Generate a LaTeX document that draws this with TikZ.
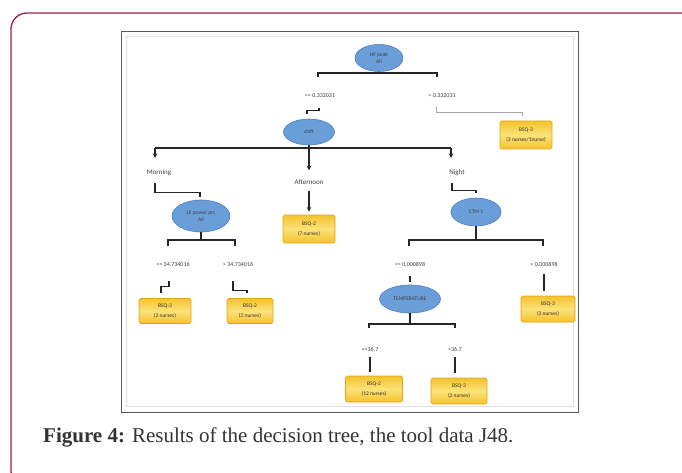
\documentclass[tikz,border=0pt]{standalone}
\usepackage{fontspec}
\setmainfont{Liberation Serif}
\newfontfamily\chartfont{Carlito}
\usepackage{xcolor}
\usepackage{tikz}
\usetikzlibrary{shapes.geometric}
\definecolor{pageline}{HTML}{9E1F4A}
\definecolor{testfill}{HTML}{6A9ED8}
\definecolor{testedge}{HTML}{4F7FBF}
\definecolor{leaflight}{HTML}{FBE27A}
\definecolor{leafgold}{HTML}{F5C22C}
\definecolor{leafedge}{HTML}{E0A420}

\begin{document}
\begin{tikzpicture}[
    x=1pt, y=-1pt,
    test/.style={ellipse, draw=testedge, fill=testfill, line width=0.6pt, inner sep=0pt, align=center, text=black!75, font=\chartfont\fontsize{5.5}{7.5}\selectfont},
    leaf/.style={draw=leafedge, line width=0.6pt, rounded corners=1.5pt, top color=leafgold, bottom color=leafgold, middle color=leaflight, inner sep=0pt, align=center, text=black!80, font=\chartfont\fontsize{5.5}{9.5}\selectfont},
    cond/.style={inner sep=1pt, text=black!75, font=\chartfont\fontsize{6}{7}\selectfont},
    shiftcond/.style={cond, font=\chartfont\fontsize{7}{8}\selectfont},
    br/.style={line width=1.3pt, draw=black!85},
    arr/.style={-stealth, line width=1.1pt, draw=black!85}
]
    \useasboundingbox (0,0) rectangle (682,473);
    \clip (0,0) rectangle (682,473);
    \draw[pageline, line width=1.3pt, rounded corners=16pt] (11,13) rectangle (720,487);
    \draw[black!65, line width=1pt] (121,32) rectangle (578,412);
    \draw[black!12, line width=1pt] (126,37) rectangle (573,406);

    \node[test, minimum width=48, minimum height=27] (root) at (379,58) {HF peak\\All};
    \node[cond] (lo1) at (320,96) {<= 0.332031};
    \node[cond] (hi1) at (442,96) {> 0.332031};
    \node[leaf, minimum width=52, minimum height=28] (q1) at (526,135) {BSQ-3\\(3 nurses/1nurse)};
    \node[test, minimum width=51, minimum height=26] (shift) at (309,132) {shift};

    \node[shiftcond] (morn) at (159,173) {Morning};
    \node[shiftcond] (aft) at (309,182) {Afternoon};
    \node[shiftcond] (night) at (457,173) {Night};
    \node[test, minimum width=58, minimum height=32] (lf) at (201,216) {LF power prc\\All};
    \node[leaf, minimum width=52, minimum height=28] (q2) at (309,229) {BSQ-2\\(7 nurses)};
    \node[test, minimum width=50, minimum height=28] (ctm) at (476,212) {CTM 1};

    \node[cond] (l1) at (173,264) {<= 34.734016};
    \node[cond] (l2) at (238,264) {> 34.734016};
    \node[cond] (l3) at (410,264) {<= 0.000898};
    \node[cond] (l4) at (544,264) {> 0.000898};
    \node[leaf, minimum width=52, minimum height=25] (qa) at (165,311) {BSQ-3\\(2 nurses)};
    \node[leaf, minimum width=46, minimum height=25] (qb) at (250,311) {BSQ-2\\(2 nurses)};
    \node[test, minimum width=61, minimum height=28] (temp) at (410,299) {TEMPERATURE};
    \node[leaf, minimum width=54, minimum height=26] (q5) at (548,309) {BSQ-3\\(3 nurses)};

    \node[cond] (l5) at (370,349) {<=36.7};
    \node[cond] (l6) at (455,349) {>36.7};
    \node[leaf, minimum width=57, minimum height=26] (q6) at (374,389) {BSQ-2\\(12 nurses)};
    \node[leaf, minimum width=56, minimum height=26] (q7) at (459,391) {BSQ-3\\(2 nurses)};

    % split on HF peak
    \draw[br] (root.south) -- ++(0,2);
    \draw[br] (318,77) |- (437,73) -- (437,77);
    \draw[br] ([xshift=-1pt,yshift=-9pt]lo1.south) -- ++(0,2.5) -| ([xshift=-2pt,yshift=5pt]shift.north);
    \draw[gray!70, line width=0.8pt] ([xshift=-6pt,yshift=-8pt]hi1.south) -- ++(0,5) -| ([xshift=-4pt,yshift=5pt]q1.north);

    % split on shift
    \draw[br] (shift.south) -- ++(0,3);
    \draw[br] (155,148) -- (451,148);
    \draw[arr] (155,148) -- ++(0,10);
    \draw[arr] (451,148) -- ++(0,10);
    \draw[arr] (shift.south) -- ++(0,25);
    \draw[br] ([xshift=-4pt,yshift=-6pt]morn.south) -- ++(0,9) -| ([xshift=-1pt,yshift=3pt]lf.north);
    \draw[br] ([xshift=-5pt,yshift=-6pt]night.south) -- ++(0,7) -| ([yshift=5pt]ctm.north);
    \draw[arr] ([yshift=-5pt]aft.south) -- ([yshift=3pt]q2.north);

    % split on LF power prc
    \draw[br] (lf.south) -- ++(0,8);
    \draw[br] (168,246) |- (235,240) -- (235,246);
    \draw[br] ([xshift=-4pt,yshift=-14pt]l1.south) -- ++(0,5) -| ([xshift=-4pt,yshift=5pt]qa.north);
    \draw[br] ([xshift=-5pt,yshift=-14pt]l2.south) -- ++(0,9) -| ([xshift=-3pt,yshift=5pt]qb.north);

    % split on CTM 1
    \draw[br] (ctm.south) -- ++(0,14);
    \draw[br] (409,246) |- (543,240) -- (543,246);
    \draw[br, shorten <=9pt, shorten >=3pt] (l3.south) -- (temp.north);
    \draw[br, shorten <=7pt, shorten >=5pt] (l4.south) -- (l4.south |- q5.north);

    % split on TEMPERATURE
    \draw[br] (temp.south) -- ++(0,11);
    \draw[br] (369,328) |- (455,324) -- (455,328);
    \draw[br, shorten <=5pt, shorten >=4pt] (l5.south) -- (l5.south |- q6.north);
    \draw[br, shorten <=5pt, shorten >=5pt] (l6.south) -- (l6.south |- q7.north);

    \node[anchor=base west, inner sep=0pt, text=black!80, font=\fontsize{21}{25}\selectfont] (caption) at (43,442) {\textbf{Figure 4:} Results of the decision tree, the tool data J48.};
\end{tikzpicture}
\end{document}
